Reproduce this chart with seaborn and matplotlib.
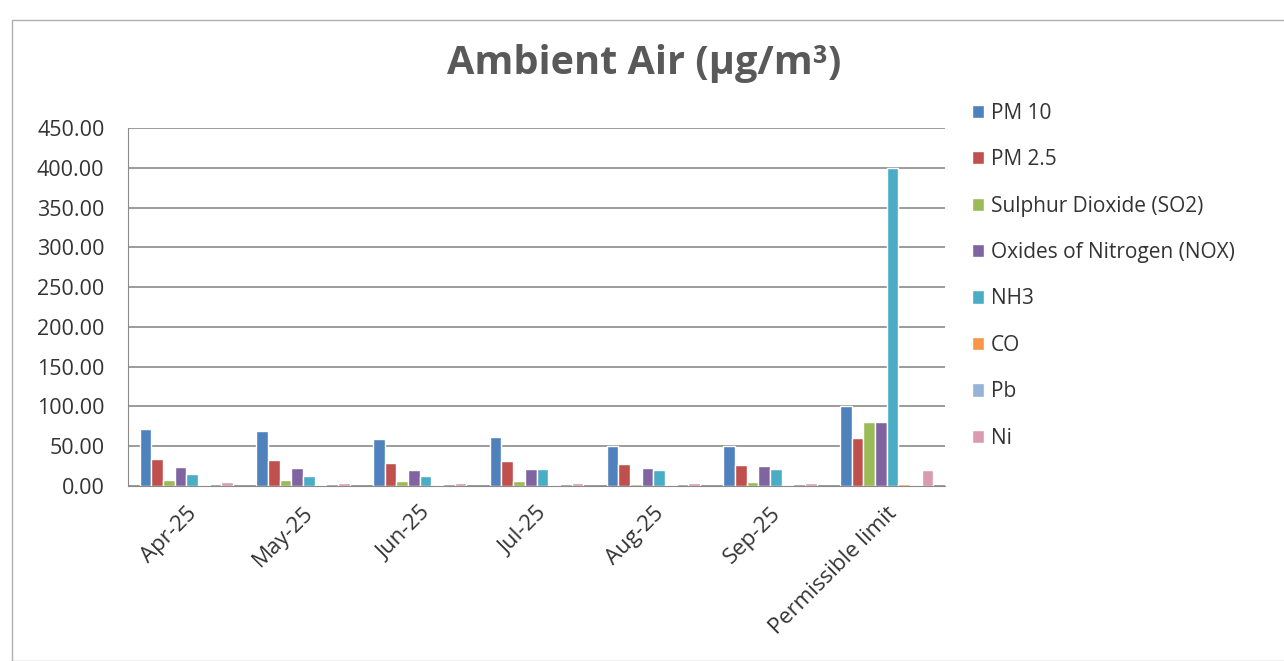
import pandas as pd
import matplotlib.pyplot as plt
import seaborn as sns
from matplotlib.patches import Patch

# Ambient air monitoring values (ug/m3)
months = ['Apr-25', 'May-25', 'Jun-25', 'Jul-25', 'Aug-25', 'Sep-25', 'Permissible limit']
pm10 = [71.5, 69.0, 59.0, 61.0, 50.0, 50.0, 100.0]
pm25 = [34.0, 33.0, 29.0, 31.0, 28.0, 26.0, 60.0]
so2 = [8.0, 8.0, 6.0, 6.0, 3.0, 5.0, 80.0]
nox = [24.0, 22.0, 20.0, 21.0, 22.0, 25.0, 80.0]
nh3 = [15.0, 13.0, 12.0, 21.0, 20.0, 21.0, 400.0]
co = [0.8, 0.7, 0.7, 0.7, 0.7, 0.7, 2.0]
pb = [0.3, 0.3, 0.3, 0.3, 0.3, 0.3, 1.0]
ni = [4.5, 4.0, 4.0, 4.0, 4.0, 4.0, 20.0]

series_names = ['PM 10', 'PM 2.5', 'Sulphur Dioxide (SO2)', 'Oxides of Nitrogen (NOX)',
                'NH3', 'CO', 'Pb', 'Ni']
colors = ['#4F81BD', '#C0504D', '#9BBB59', '#8064A2', '#4BACC6', '#F79646', '#95B3D7', '#D99BAE']

# long form table for seaborn
rows = []
for name, vals in zip(series_names, [pm10, pm25, so2, nox, nh3, co, pb, ni]):
    for m, v in zip(months, vals):
        rows.append({'month': m, 'pollutant': name, 'value': v})
df = pd.DataFrame(rows)

sns.set_style('white')
plt.rcParams['font.family'] = ['Open Sans', 'DejaVu Sans']

fig = plt.figure(figsize=(12.84, 6.61), dpi=100)
ax = fig.add_axes([128 / 1284, 1 - 486 / 661, (945 - 128) / 1284, (486 - 128) / 661])

sns.barplot(data=df, x='month', y='value', hue='pollutant', hue_order=series_names,
            order=months, palette=colors, width=0.8, ax=ax, legend=False,
            saturation=1, errorbar=None)

ax.set_ylim(0, 450)
ax.set_yticks(range(0, 451, 50))
ax.set_yticklabels([f'{t:.2f}' for t in range(0, 451, 50)], fontsize=15.5, color='#333333')
ax.set_xlim(-0.5, len(months) - 0.5)
ax.set_xticks(range(len(months)))
ax.set_xticklabels(months, rotation=45, ha='right', rotation_mode='anchor', fontsize=16,
                   color='#333333')
ax.set_xlabel('')
ax.set_ylabel('')
ax.yaxis.grid(True, color='#8a8a8a', linewidth=1.2)
ax.set_axisbelow(True)
for side in ['top', 'right']:
    ax.spines[side].set_visible(False)
ax.spines['left'].set_color('#8a8a8a')
ax.spines['bottom'].set_color('#8a8a8a')
ax.tick_params(axis='x', length=0, pad=12)
ax.tick_params(axis='y', length=0, pad=17)

fig.text(644 / 1284, 1 - 74 / 661, 'Ambient Air (µg/m³)', fontsize=28.5, fontweight='bold',
         color='#595959', ha='center', va='baseline')

handles = [Patch(facecolor=c, label=n) for c, n in zip(colors, series_names)]
fig.legend(handles=handles, loc='upper left', bbox_to_anchor=(953 / 1284, 1 - 84 / 661),
           frameon=False, fontsize=15, handlelength=0.6, handleheight=0.6,
           handletextpad=0.3, labelspacing=1.22, labelcolor='#333333')

# chart frame as on the scanned sheet
fig.patches.append(plt.Rectangle((12 / 1284, 0), 1.2, 1 - 20 / 661, transform=fig.transFigure,
                                 fill=False, edgecolor='#b0b0b0', linewidth=1))

fig.savefig('out.png', dpi=100)
